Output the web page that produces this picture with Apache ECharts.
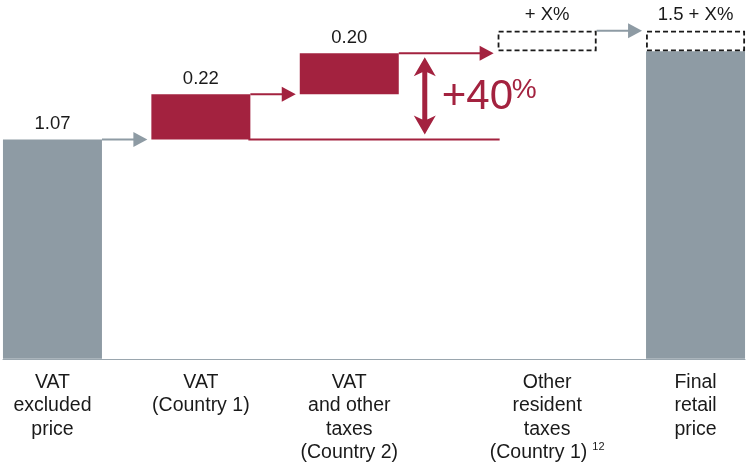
<!DOCTYPE html>
<html>
<head>
<meta charset="utf-8">
<script src="https://cdn.jsdelivr.net/npm/echarts@6/dist/echarts.min.js"></script>
<style>
html, body { margin: 0; padding: 0; background: #fff; }
#chart { width: 748px; height: 465px; }
</style>
</head>
<body>
<div id="chart"></div>
<script>
// empty names are spacer slots between the steps
var categories = ['', 'VAT\nexcluded\nprice', '', '', 'VAT\n(Country 1)', '', '', 'VAT\nand other\ntaxes\n(Country 2)', '', '', '', 'Other\nresident\ntaxes\n(Country 1)', '', '', 'Final\nretail\nprice', ''];
var footnotes = ['', '', '', '', '', '', '', '', '', '', '', '12', '', '', '', ''];
var totals   = ['-', 1.07, '-', '-', '-', '-', '-', '-', '-', '-', '-', '-', '-', '-', 1.5, '-'];
var offsets  = ['-', '-', '-', '-', 1.07, '-', '-', 1.29, '-', '-', '-', 1.5, '-', '-', '-', '-'];
var taxes    = ['-', '-', '-', '-', 0.22, '-', '-', 0.20, '-', '-', '-', '-', '-', '-', '-', '-'];
var unknowns = ['-', '-', '-', '-', '-', '-', '-', '-', '-', '-', '-', 0.1, '-', '-', 0.1, '-'];
var valueLabels = ['', '1.07', '', '', '0.22', '', '', '0.20', '', '', '', '+ X%', '', '', '1.5 + X%', ''];
var growthLabel = '+40';

var RED = '#a3223f';
var GREY = '#8e9ba4';
var INK = '#1a1a1a';
var FONT = '"Liberation Sans", Arial, sans-serif';
var BAR_W = 99;

function num(v) { return v === '-' ? 0 : v; }
function topOf(i) {
  if (unknowns[i] !== '-') return 'unknown';
  if (taxes[i] !== '-') return 'tax';
  return 'total';
}
function labelFor(kind) {
  return {
    show: true,
    position: 'top',
    distance: 6,
    fontFamily: FONT,
    fontSize: 18.5,
    color: INK,
    formatter: function (p) { return topOf(p.dataIndex) === kind ? valueLabels[p.dataIndex] : ''; }
  };
}

var chart = echarts.init(document.getElementById('chart'));
chart.setOption({
  animation: false,
  grid: { left: 0, right: 1, top: 0, bottom: 105 },
  xAxis: {
    type: 'category',
    data: categories,
    boundaryGap: false,
    axisTick: { show: false },
    axisLine: { lineStyle: { color: '#9aa6ae', width: 1 } },
    axisLabel: {
      interval: 0,
      margin: 12,
      color: INK,
      fontFamily: FONT,
      fontSize: 19.5,
      lineHeight: 23.5,
      formatter: function (value, index) {
        return footnotes[index] ? value + '{sup|' + footnotes[index] + '}' : value;
      },
      rich: {
        sup: { fontSize: 11, lineHeight: 23.5, padding: [0, 0, 13, 5], color: INK, fontFamily: FONT }
      }
    }
  },
  yAxis: { type: 'value', min: 0, max: 1.75, show: false, splitLine: { show: false } },
  series: [
    { name: 'offset', type: 'bar', stack: 'w', data: offsets, barWidth: BAR_W,
      itemStyle: { color: 'transparent' }, silent: true },
    { name: 'total', type: 'bar', stack: 'w', data: totals, barWidth: BAR_W,
      itemStyle: { color: GREY }, label: labelFor('total') },
    { name: 'tax', type: 'bar', stack: 'w', data: taxes, barWidth: BAR_W,
      itemStyle: { color: RED }, label: labelFor('tax') },
    { name: 'unknown', type: 'bar', stack: 'w', data: unknowns, barWidth: BAR_W,
      itemStyle: { color: 'transparent', borderColor: '#1a1a1a', borderWidth: 1.8, borderType: [5, 3] },
      label: labelFor('unknown') }
  ]
});

// connectors and the growth marker, placed through the axes
function px(i, v) { return chart.convertToPixel({ gridIndex: 0 }, [i, v]); }
var half = BAR_W / 2;
var steps = [];
categories.forEach(function (c, i) { if (c !== '') steps.push(i); });
function stepTop(i) { return num(offsets[i]) + num(totals[i]) + num(taxes[i]) + num(unknowns[i]); }

var g = [];
function arrowH(x1, x2, y, color) {
  g.push({ type: 'line', shape: { x1: x1, y1: y, x2: x2 - 12, y2: y }, style: { stroke: color, lineWidth: 2 } });
  g.push({ type: 'polygon', shape: { points: [[x2, y], [x2 - 14, y - 7.5], [x2 - 14, y + 7.5]] }, style: { fill: color } });
}
for (var k = 0; k < steps.length - 1; k++) {
  var s = steps[k], n = steps[k + 1];
  var y = px(s, stepTop(s))[1];
  var color = topOf(s) === 'tax' ? RED : GREY;
  arrowH(px(s, 0)[0] + half, px(n, 0)[0] - half - 4, y, color);
}

var taxSteps = steps.filter(function (i) { return taxes[i] !== '-'; });
var first = taxSteps[0], last = taxSteps[taxSteps.length - 1];
var after = steps[steps.indexOf(last) + 1];
var yLow = px(first, offsets[first])[1];
var yHigh = px(last, stepTop(last))[1];
g.push({ type: 'line', shape: { x1: px(first, 0)[0] + half - 2, y1: yLow, x2: px(after, 0)[0] - half + 2, y2: yLow },
         style: { stroke: RED, lineWidth: 2 } });

var cx = px(last, 0)[0] + half + 26;
var yt = yHigh + 4, yb = yLow - 5;
g.push({ type: 'polygon', shape: { points: [
  [cx, yt], [cx + 11, yt + 19], [cx + 2.5, yt + 15], [cx + 2.5, yb - 15], [cx + 11, yb - 19],
  [cx, yb], [cx - 11, yb - 19], [cx - 2.5, yb - 15], [cx - 2.5, yt + 15], [cx - 11, yt + 19]
] }, style: { fill: RED } });
var ym = (yt + yb) / 2;
g.push({ type: 'text', style: { text: growthLabel, x: cx + 17, y: ym + 2, fill: RED,
         fontFamily: FONT, fontSize: 42, align: 'left', verticalAlign: 'middle' } });
g.push({ type: 'text', style: { text: '%', x: cx + 87, y: ym - 6, fill: RED,
         fontFamily: FONT, fontSize: 28, align: 'left', verticalAlign: 'middle' } });

chart.setOption({ graphic: g });
</script>
</body>
</html>
